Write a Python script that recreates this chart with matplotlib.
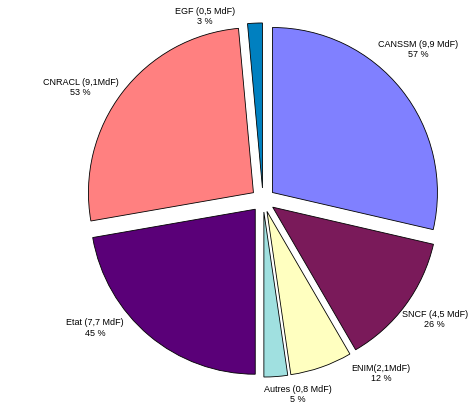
import numpy as np
import matplotlib
matplotlib.use("Agg")
import matplotlib.pyplot as plt

# Data
categories = ["CANSSM", "SNCF", "ENIM", "Autres", "Etat", "CNRACL", "EGF"]
values_mdf = [9.9, 4.5, 2.1, 0.8, 7.7, 9.1, 0.5]
value_text = ["9,9 MdF", "4,5 MdF", "2,1MdF", "0,8 MdF", "7,7 MdF", "9,1MdF", "0,5 MdF"]
percents = [57, 26, 12, 5, 45, 53, 3]

# Styles / layout
colors = ["#8080FF", "#7A1A5A", "#FFFFC0", "#A0E0E0", "#5A0078", "#FF8080", "#0080C0"]
explode = [0.073] * len(values_mdf)
label_polar = [(44.1, 1.31), (-34.9, 1.27), (-55.7, 1.27), (-79.8, 1.20),
               (-142.7, 1.28), (148.3, 1.30), (107.6, 1.165)]

W, H, DPI = 473, 412, 100
cx, cy, R = 263, 200, 165  # pixel layout of the pie

fig = plt.figure(figsize=(W / DPI, H / DPI), dpi=DPI)
ax = fig.add_axes([0, 0, 1, 1])
ax.set_xlim(-cx / R, (W - cx) / R)
ax.set_ylim(-(H - cy) / R, cy / R)
ax.axis("off")

ax.pie(values_mdf, colors=colors, explode=explode, startangle=90,
       counterclock=False, radius=1.0,
       wedgeprops=dict(edgecolor="black", linewidth=0.6))
ax.set_xlim(-cx / R, (W - cx) / R)
ax.set_ylim(-(H - cy) / R, cy / R)
ax.set_aspect("auto")

for cat, vt, p, (ang, dist) in zip(categories, value_text, percents, label_polar):
    a = np.deg2rad(ang)
    sep = " " if not cat == "ENIM" else ""
    ax.text(dist * np.cos(a), dist * np.sin(a), f"{cat}{sep}({vt})\n{p} %",
            ha="center", va="center", fontsize=6.5, family="Liberation Sans",
            linespacing=1.15)

fig.savefig("out.png", dpi=DPI)
